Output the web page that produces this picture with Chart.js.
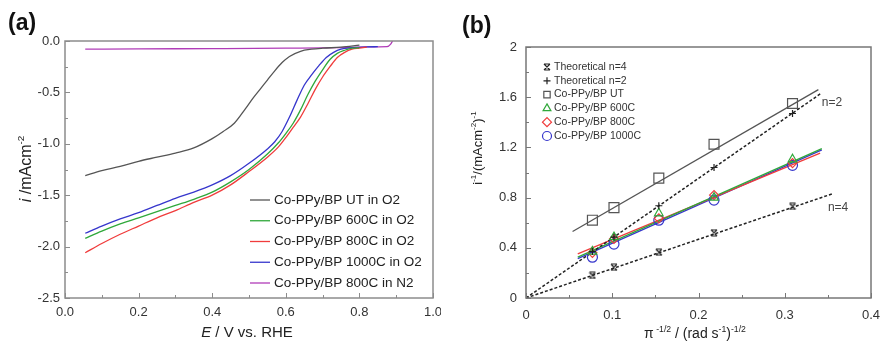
<!DOCTYPE html>
<html>
<head>
<meta charset="utf-8">
<script src="https://cdn.jsdelivr.net/npm/chart.js@4.4.1/dist/chart.umd.min.js"></script>
<style>
  html, body { margin: 0; padding: 0; background: #fff; }
  #wrap { position: relative; width: 882px; height: 345px; }
  canvas { position: absolute; top: 0; }
  #lsv { left: 0; }
  #kl { left: 441px; }
</style>
</head>
<body>
<div id="wrap">
  <canvas id="lsv" width="441" height="345"></canvas>
  <canvas id="kl" width="441" height="345"></canvas>
</div>
<script>
// (a) polarization curves: E / V vs RHE, i / mA cm-2
const eUT   = [0.055, 0.1, 0.15, 0.2, 0.25, 0.3, 0.35, 0.4, 0.43, 0.46, 0.49, 0.51, 0.53, 0.55, 0.57, 0.59, 0.61, 0.64, 0.67, 0.7, 0.75, 0.8];
const iUT   = [-1.31, -1.26, -1.22, -1.17, -1.13, -1.09, -1.04, -0.95, -0.88, -0.8, -0.66, -0.56, -0.47, -0.38, -0.29, -0.21, -0.15, -0.1, -0.08, -0.07, -0.06, -0.04];
const e600  = [0.055, 0.1, 0.15, 0.2, 0.25, 0.3, 0.35, 0.4, 0.45, 0.5, 0.55, 0.58, 0.6, 0.62, 0.64, 0.66, 0.68, 0.7, 0.72, 0.74, 0.76, 0.78, 0.8];
const i600  = [-1.92, -1.85, -1.78, -1.72, -1.66, -1.6, -1.54, -1.47, -1.37, -1.25, -1.1, -0.99, -0.9, -0.8, -0.67, -0.52, -0.39, -0.28, -0.18, -0.12, -0.09, -0.07, -0.065];
const e800  = [0.055, 0.1, 0.15, 0.2, 0.25, 0.3, 0.35, 0.4, 0.45, 0.5, 0.55, 0.58, 0.6, 0.62, 0.64, 0.66, 0.68, 0.7, 0.72, 0.74, 0.76, 0.78, 0.8, 0.82];
const i800  = [-2.06, -1.97, -1.88, -1.8, -1.72, -1.65, -1.57, -1.5, -1.4, -1.27, -1.13, -1.03, -0.94, -0.84, -0.74, -0.61, -0.47, -0.35, -0.25, -0.16, -0.11, -0.08, -0.07, -0.06];
const e1000 = [0.055, 0.1, 0.15, 0.2, 0.25, 0.3, 0.35, 0.4, 0.45, 0.5, 0.55, 0.57, 0.59, 0.61, 0.63, 0.65, 0.67, 0.69, 0.71, 0.73, 0.75, 0.78, 0.82, 0.85];
const i1000 = [-1.87, -1.8, -1.73, -1.67, -1.6, -1.53, -1.47, -1.4, -1.31, -1.19, -1.05, -0.98, -0.88, -0.74, -0.58, -0.43, -0.33, -0.24, -0.16, -0.11, -0.08, -0.065, -0.058, -0.055];
const eN2   = [0.055, 0.2, 0.4, 0.6, 0.75, 0.82, 0.875, 0.885, 0.89];
const iN2   = [-0.08, -0.077, -0.074, -0.07, -0.065, -0.058, -0.055, -0.03, 0.0];
const lsvLabels = ['Co-PPy/BP UT in O2', 'Co-PPy/BP 600C in O2', 'Co-PPy/BP 800C in O2',
                   'Co-PPy/BP 1000C in O2', 'Co-PPy/BP 800C in N2'];
const lsvTicksX = [0, 0.2, 0.4, 0.6, 0.8, 1.0];
const lsvTicksY = [0, -0.5, -1.0, -1.5, -2.0, -2.5];

// (b) Koutecky-Levich plot
const klX    = [0.077, 0.102, 0.154, 0.218, 0.309];
const klN4   = [0.18, 0.245, 0.365, 0.52, 0.73];
const klN2   = [0.37, 0.485, 0.735, 1.04, 1.47];
const klUT   = [0.62, 0.72, 0.955, 1.225, 1.55];
const kl600  = [0.37, 0.485, 0.675, 0.8, 1.105];
const kl800  = [0.36, 0.47, 0.635, 0.82, 1.075];
const kl1000 = [0.325, 0.43, 0.62, 0.78, 1.057];
// straight lines: [start, end]
const lineN4X   = [0, 0.356],    lineN4Y   = [0, 0.832];
const lineN2X   = [0, 0.342],    lineN2Y   = [0, 1.63];
const lineUTX   = [0.054, 0.339], lineUTY  = [0.53, 1.66];
const line600X  = [0.06, 0.343], line600Y  = [0.325, 1.19];
const line800X  = [0.06, 0.341], line800Y  = [0.352, 1.155];
const line1000X = [0.06, 0.343], line1000Y = [0.314, 1.18];
const klLabels = ['Theoretical n=4', 'Theoretical n=2', 'Co-PPy/BP UT', 'Co-PPy/BP 600C',
                  'Co-PPy/BP 800C', 'Co-PPy/BP 1000C'];
const klTicksX = [0, 0.1, 0.2, 0.3, 0.4];
const klTicksY = [0, 0.4, 0.8, 1.2, 1.6, 2];

const FONT = '"Liberation Sans", Arial, sans-serif';
const pts = (xs, ys) => xs.map((x, k) => ({ x: x, y: ys[k] }));

// x with bars on top and bottom
function hourglass(size, color) {
  const c = document.createElement('canvas');
  c.width = c.height = size;
  const g = c.getContext('2d');
  g.strokeStyle = color; g.lineWidth = 1.2;
  g.beginPath();
  g.moveTo(1, 1); g.lineTo(size - 1, size - 1);
  g.moveTo(size - 1, 1); g.lineTo(1, size - 1);
  g.moveTo(1, 1); g.lineTo(size - 1, 1);
  g.moveTo(1, size - 1); g.lineTo(size - 1, size - 1);
  g.stroke();
  return c;
}

// text with italic / superscript pieces, centred on (cx, cy)
function richText(ctx, parts, cx, cy, size, rot) {
  const fontOf = p => (p.i ? 'italic ' : '') + (p.sup ? size * 0.62 : size) + 'px ' + FONT;
  let w = 0;
  const widths = parts.map(p => { ctx.font = fontOf(p); const m = ctx.measureText(p.t).width; w += m; return m; });
  ctx.save();
  ctx.translate(cx, cy);
  if (rot) ctx.rotate(rot);
  ctx.textAlign = 'left'; ctx.textBaseline = 'alphabetic';
  ctx.fillStyle = '#222';
  let x = -w / 2;
  const base = size * 0.35;
  parts.forEach((p, k) => {
    ctx.font = fontOf(p);
    ctx.fillText(p.t, x, p.sup ? base - size * 0.42 : base);
    x += widths[k];
  });
  ctx.restore();
}

// box around the plot area and inward tick marks
function framePlugin(color) {
  return {
    id: 'frame',
    afterDatasetsDraw(chart) {
      const ctx = chart.ctx, a = chart.chartArea;
      ctx.save();
      ctx.strokeStyle = color; ctx.lineWidth = 1.5;
      ctx.strokeRect(a.left, a.top, a.right - a.left, a.bottom - a.top);
      ctx.lineWidth = 1;
      ['x', 'y'].forEach(id => {
        const s = chart.scales[id];
        const major = s.ticks.map(t => t.value);
        const minor = major.slice(1).map((v, k) => (v + major[k]) / 2);
        const marks = major.map(v => [v, 5]).concat(minor.map(v => [v, 3]));
        ctx.beginPath();
        marks.forEach(([v, len]) => {
          const p = Math.round(s.getPixelForValue(v)) + 0.5;
          if (id === 'x') { ctx.moveTo(p, a.bottom); ctx.lineTo(p, a.bottom - len); }
          else { ctx.moveTo(a.left, p); ctx.lineTo(a.left + len, p); }
        });
        ctx.stroke();
      });
      ctx.restore();
    }
  };
}

function axis(min, max, ticks, fmt, pad, size) {
  return {
    type: 'linear', min: min, max: max,
    grid: { display: false, drawTicks: false },
    border: { display: false },
    afterBuildTicks: s => { s.ticks = ticks.map(v => ({ value: v })); },
    ticks: { color: '#333', font: { family: FONT, size: 13 }, padding: pad, callback: fmt },
    afterFit: s => {
      if (s.isHorizontal()) s.height = size; else s.width = size;
      s.paddingLeft = s.paddingRight = s.paddingTop = s.paddingBottom = 0;
    }
  };
}

// ---- (a) ----
const lsvColors = ['#555555', '#2fa83a', '#f03c3c', '#3636cc', '#b03cb8'];
const lsvSeries = [pts(eUT, iUT), pts(e600, i600), pts(e800, i800), pts(e1000, i1000), pts(eN2, iN2)];

const lsvText = {
  id: 'lsvText',
  afterDraw(chart) {
    const ctx = chart.ctx;
    ctx.save();
    ctx.fillStyle = '#111';
    ctx.font = 'bold 23px ' + FONT;
    ctx.textBaseline = 'alphabetic';
    ctx.fillText('(a)', 8, 30);
    richText(ctx, [{ t: 'E', i: true }, { t: ' / V vs. RHE' }], 247, 332, 15);
    richText(ctx, [{ t: 'i', i: true }, { t: ' /mAcm' }, { t: '-2', sup: true }], 25, 169, 16, -Math.PI / 2);
    // legend
    ctx.font = '13.5px ' + FONT;
    ctx.textBaseline = 'middle';
    chart.data.datasets.forEach((ds, k) => {
      const y = 200 + k * 20.75;
      ctx.strokeStyle = ds.borderColor; ctx.lineWidth = 1.3;
      ctx.beginPath(); ctx.moveTo(250, y); ctx.lineTo(270, y); ctx.stroke();
      ctx.fillStyle = '#222';
      ctx.fillText(ds.label, 274, y);
    });
    ctx.restore();
  }
};

new Chart(document.getElementById('lsv'), {
  type: 'scatter',
  data: {
    datasets: lsvSeries.map((d, k) => ({
      label: lsvLabels[k], data: d, showLine: true,
      borderColor: lsvColors[k], borderWidth: 1.3, pointRadius: 0,
      cubicInterpolationMode: 'monotone'
    }))
  },
  options: {
    responsive: false, animation: false, events: [],
    layout: { padding: { top: 41, right: 8, left: 0, bottom: 0 } },
    plugins: { legend: { display: false }, tooltip: { enabled: false } },
    scales: {
      x: axis(0, 1, lsvTicksX, v => v.toFixed(1), 7, 47),
      y: axis(-2.5, 0, lsvTicksY, v => v.toFixed(1), 5, 65)
    }
  },
  plugins: [framePlugin('#8c8c8c'), lsvText]
});

// ---- (b) ----
const markN4 = hourglass(8, '#222');
const klMarks = [
  { data: klN4,   style: markN4,   color: '#222',    r: 4 },
  { data: klN2,   style: 'cross',  color: '#222',    r: 3.5 },
  { data: klUT,   style: 'rect',   color: '#555',    r: 7 },
  { data: kl600,  style: 'triangle', color: '#2fa83a', r: 5 },
  { data: kl800,  style: 'rectRot', color: '#f03c3c', r: 4.5 },
  { data: kl1000, style: 'circle', color: '#3636cc', r: 5 }
];
const klLines = [
  { xs: lineN4X, ys: lineN4Y, color: '#222', dash: [3, 2], w: 1.5 },
  { xs: lineN2X, ys: lineN2Y, color: '#222', dash: [3, 2], w: 1.5 },
  { xs: lineUTX, ys: lineUTY, color: '#555', dash: [], w: 1.3 },
  { xs: line600X, ys: line600Y, color: '#2fa83a', dash: [], w: 1.3 },
  { xs: line800X, ys: line800Y, color: '#f03c3c', dash: [], w: 1.3 },
  { xs: line1000X, ys: line1000Y, color: '#3636cc', dash: [], w: 1.3 }
];

const klText = {
  id: 'klText',
  afterDraw(chart) {
    const ctx = chart.ctx, sx = chart.scales.x, sy = chart.scales.y;
    ctx.save();
    ctx.fillStyle = '#111';
    ctx.font = 'bold 23px ' + FONT;
    ctx.textBaseline = 'alphabetic';
    ctx.fillText('(b)', 21, 33);
    richText(ctx, [{ t: 'π' }, { t: ' -1/2', sup: true }, { t: ' / (rad s' }, { t: '-1', sup: true },
                   { t: ')' }, { t: '-1/2', sup: true }], 254, 333, 14);
    richText(ctx, [{ t: 'i' }, { t: '-1', sup: true }, { t: '/(mAcm' }, { t: '-2', sup: true },
                   { t: ')' }, { t: '-1', sup: true }], 36, 148, 13, -Math.PI / 2);
    // line tags
    ctx.font = '12px ' + FONT;
    ctx.fillStyle = '#444';
    ctx.textBaseline = 'middle';
    ctx.fillText('n=2', sx.getPixelForValue(0.343), sy.getPixelForValue(1.56));
    ctx.fillText('n=4', sx.getPixelForValue(0.35), sy.getPixelForValue(0.723));
    // legend
    ctx.font = '10.5px ' + FONT;
    klLabels.forEach((lab, k) => {
      const y = 67 + k * 13.8, m = klMarks[k];
      ctx.strokeStyle = m.color; ctx.fillStyle = 'rgba(0,0,0,0)'; ctx.lineWidth = 1.2;
      Chart.helpers.drawPoint(ctx, { pointStyle: m.style, radius: Math.min(m.r, 4.5), borderWidth: 1.2, rotation: 0 }, 106, y);
      ctx.fillStyle = '#333';
      ctx.fillText(lab, 113, y);
    });
    ctx.restore();
  }
};

new Chart(document.getElementById('kl'), {
  type: 'scatter',
  data: {
    datasets: klMarks.map((m, k) => ({
      label: klLabels[k], data: pts(klX, m.data),
      pointStyle: m.style, pointRadius: m.r, borderColor: m.color,
      backgroundColor: 'rgba(0,0,0,0)', pointBorderWidth: 1.2
    })).concat(klLines.map(l => ({
      data: pts(l.xs, l.ys), showLine: true, pointRadius: 0,
      borderColor: l.color, borderWidth: l.w, borderDash: l.dash
    })))
  },
  options: {
    responsive: false, animation: false, events: [],
    layout: { padding: { top: 47, right: 11, left: 0, bottom: 0 } },
    plugins: { legend: { display: false }, tooltip: { enabled: false } },
    scales: {
      x: axis(0, 0.4, klTicksX, v => String(v), 10, 47),
      y: axis(0, 2, klTicksY, v => String(v), 9, 85)
    }
  },
  plugins: [framePlugin('#777777'), klText]
});
</script>
</body>
</html>
